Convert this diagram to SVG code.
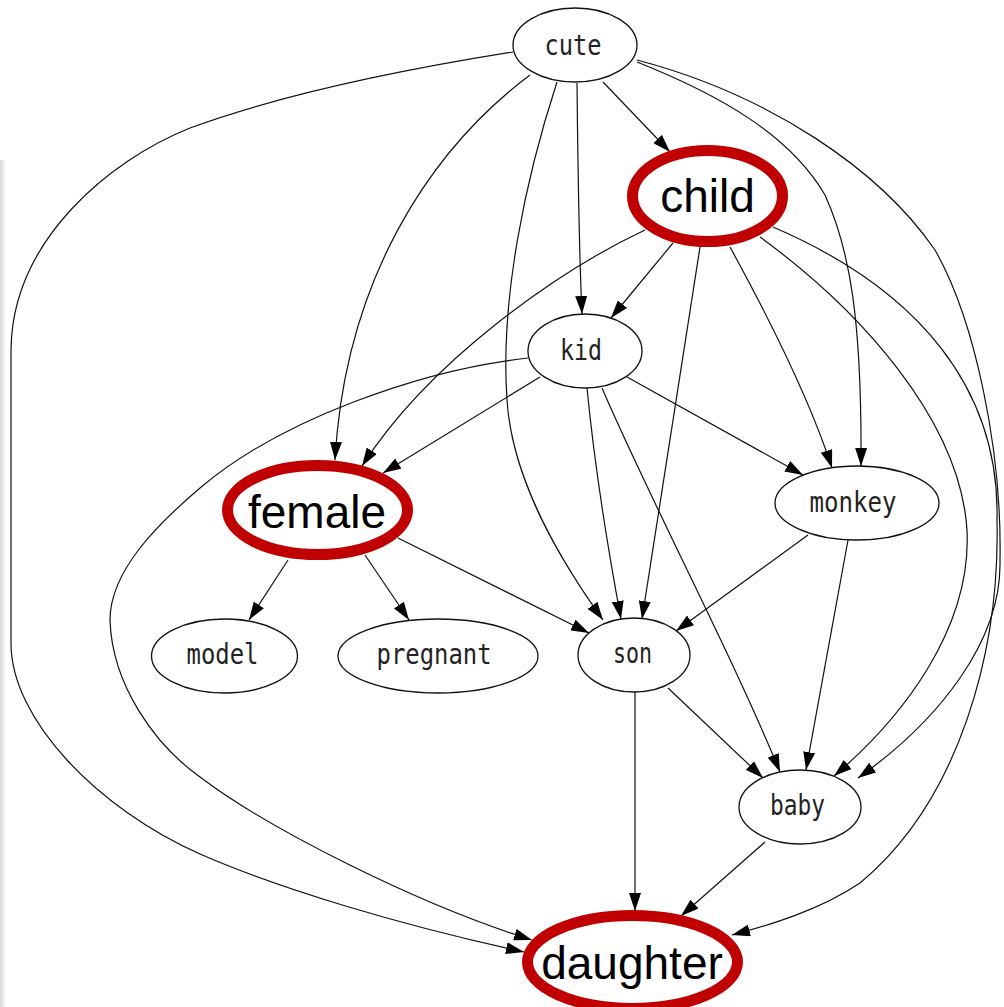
<svg xmlns="http://www.w3.org/2000/svg" width="1004" height="1007" viewBox="0 0 1004 1007">
<style>
.e{fill:none;stroke:#111;stroke-width:1.2;marker-end:url(#ah)}
.n{fill:#fff;stroke:#111;stroke-width:1.3}
.r{fill:#fff;stroke:#c00000;stroke-width:11}
.t{font-family:"DejaVu Sans Mono",monospace;font-size:28px;fill:#222;text-anchor:middle}
.b{font-family:"Liberation Sans",Arial,sans-serif;font-size:46px;fill:#000;text-anchor:middle}
</style>
<defs>
<marker id="ah" viewBox="0 0 18 12" refX="18" refY="6" markerWidth="18" markerHeight="12" markerUnits="userSpaceOnUse" orient="auto">
<path d="M0,0 L18,6 L0,12 z" fill="#000"/>
</marker>
<linearGradient id="edge" x1="0" y1="0" x2="1" y2="0">
<stop offset="0" stop-color="#d4d4d4"/>
<stop offset="1" stop-color="#fff"/>
</linearGradient>
</defs>
<rect width="1004" height="1007" fill="#fff"/>
<rect x="0" y="160" width="6" height="847" fill="url(#edge)"/>
<g id="connectors">
<path class="e" d="M603,82 L670,152"/>
<path class="e" d="M577,83 C578,180 579,250 582,314"/>
<path class="e" d="M557,82 C525,180 500,300 507,400 C512,480 560,560 603,620"/>
<path class="e" d="M530,75 C430,150 345,280 335,460"/>
<path class="e" d="M513,52 C400,70 280,95 190,128 C110,160 12,240 11,350 L11,642 C10,720 100,810 200,854 C280,889 400,925 524,952"/>
<path class="e" d="M637,62 C720,95 790,135 825,195 C850,250 862,320 861,466"/>
<path class="e" d="M637,60 C770,95 880,170 935,250 C975,320 1002,450 1000,560 C1002,640 940,720 858,778"/>
<path class="e" d="M673,243 L611,318"/>
<path class="e" d="M645,230 C560,270 430,360 362,466"/>
<path class="e" d="M700,247 L642,619"/>
<path class="e" d="M730,247 C770,320 810,400 832,468"/>
<path class="e" d="M760,237 C860,310 960,420 967,530 C972,630 900,720 834,776"/>
<path class="e" d="M773,227 C920,290 1000,390 997,520 C1000,650 960,800 860,883 C820,910 770,925 732,935"/>
<path class="e" d="M540,377 L383,473"/>
<path class="e" d="M528,358 C420,370 280,420 200,488 C160,522 110,570 110,620 C112,685 155,745 200,777 C270,830 420,905 532,940"/>
<path class="e" d="M587,388 C595,470 610,560 621,619"/>
<path class="e" d="M602,388 C650,500 730,650 780,772"/>
<path class="e" d="M627,377 L803,475"/>
<path class="e" d="M288,560 L249,620"/>
<path class="e" d="M365,555 L409,620"/>
<path class="e" d="M398,538 L589,633"/>
<path class="e" d="M808,535 L676,631"/>
<path class="e" d="M848,540 L806,770"/>
<path class="e" d="M668,688 L763,778"/>
<path class="e" d="M635,692 L635,911"/>
<path class="e" d="M765,842 L681,916"/>
</g>
<g id="cute"><ellipse class="n" cx="575" cy="45" rx="62" ry="37"/><text class="t" x="573" y="55" textLength="57" lengthAdjust="spacingAndGlyphs">cute</text></g>
<g id="child"><ellipse class="r" cx="707.5" cy="196" rx="75" ry="45.5"/><text class="b" x="707.5" y="212">child</text></g>
<g id="kid"><ellipse class="n" cx="585" cy="351" rx="57" ry="37"/><text class="t" x="581" y="360" textLength="42" lengthAdjust="spacingAndGlyphs">kid</text></g>
<g id="female"><ellipse class="r" cx="317.5" cy="510" rx="90" ry="44.5"/><text class="b" x="317" y="528">female</text></g>
<g id="monkey"><ellipse class="n" cx="857" cy="503" rx="82" ry="37"/><text class="t" x="853" y="512" textLength="87" lengthAdjust="spacingAndGlyphs">monkey</text></g>
<g id="model"><ellipse class="n" cx="224.5" cy="656" rx="73" ry="37"/><text class="t" x="222.5" y="664" textLength="72" lengthAdjust="spacingAndGlyphs">model</text></g>
<g id="pregnant"><ellipse class="n" cx="438" cy="656" rx="100" ry="37"/><text class="t" x="434" y="664" textLength="115" lengthAdjust="spacingAndGlyphs">pregnant</text></g>
<g id="son"><ellipse class="n" cx="634" cy="655" rx="56" ry="37"/><text class="t" x="632.5" y="663" textLength="39" lengthAdjust="spacingAndGlyphs">son</text></g>
<g id="baby"><ellipse class="n" cx="800" cy="807" rx="61" ry="37"/><text class="t" x="797.5" y="815" textLength="55" lengthAdjust="spacingAndGlyphs">baby</text></g>
<g id="daughter"><ellipse class="r" cx="632.5" cy="962" rx="105" ry="46.5"/><text class="b" x="632" y="979">daughter</text></g>
</svg>
